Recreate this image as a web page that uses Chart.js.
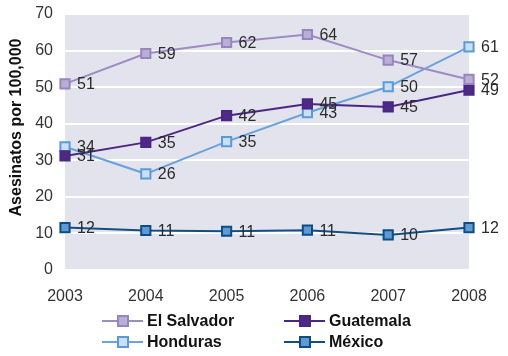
<!DOCTYPE html>
<html><head><meta charset="utf-8">
<script src="https://cdn.jsdelivr.net/npm/chart.js@4/dist/chart.umd.min.js"></script>
<style>html,body{margin:0;padding:0;background:#fff}#wrap{width:508px;height:356px}</style>
</head><body><div id="wrap"><canvas id="c" width="508" height="356"></canvas></div>
<script>
const years = ['2003','2004','2005','2006','2007','2008'];
const elSalvador = [50.9, 59.2, 62.2, 64.4, 57.4, 52.1];
const guatemala = [31.2, 34.9, 42.2, 45.4, 44.6, 49.2];
const honduras = [33.7, 26.3, 35.1, 43.0, 50.1, 61.0];
const mexico = [11.6, 10.8, 10.6, 10.9, 9.6, 11.6];
const seriesNames = ['El Salvador','Guatemala','Honduras','México'];
const yTitle = 'Asesinatos por 100,000';

const styles = [
  {line:'#9d8bc4', border:'#9884bf', fill:'#b9afd5'},
  {line:'#4b2784', border:'#4b2784', fill:'#4e2a86'},
  {line:'#6aa3db', border:'#5a9ad6', fill:'#cadff5'},
  {line:'#134e83', border:'#0f4c81', fill:'#5d9ad6'}
];
const seriesData = [elSalvador, guatemala, honduras, mexico];
const FONT = '"Liberation Sans", Arial, sans-serif';

const datasets = seriesData.map((d,i)=>({
  label: seriesNames[i], data: d,
  borderColor: styles[i].line, borderWidth: 2,
  pointStyle:'rect', pointRadius:6.5, pointHoverRadius:6.5,
  pointBorderWidth:2, pointBorderColor: styles[i].border, pointBackgroundColor: styles[i].fill,
  tension:0, fill:false
}));

const bgPlugin = {
  id:'bg',
  beforeDraw(chart){
    const a = chart.chartArea, ctx = chart.ctx;
    ctx.save(); ctx.fillStyle = '#e3e3ee';
    ctx.fillRect(a.left, a.top, a.right-a.left, a.bottom-a.top);
    ctx.restore();
  }
};
const labelPlugin = {
  id:'labels',
  afterDatasetsDraw(chart){
    const ctx = chart.ctx;
    ctx.save();
    ctx.font = '16px ' + FONT;
    ctx.fillStyle = '#2b2b2b'; ctx.textBaseline = 'middle'; ctx.textAlign='left';
    chart.data.datasets.forEach((ds,i)=>{
      const meta = chart.getDatasetMeta(i);
      meta.data.forEach((pt,j)=>{
        ctx.fillText(String(Math.round(ds.data[j])), pt.x+12, pt.y+1);
      });
    });
    ctx.restore();
  }
};
const titlePlugin = {
  id:'ytitle',
  afterDraw(chart){
    const ctx = chart.ctx;
    ctx.save();
    ctx.translate(17, 127.5); ctx.rotate(-Math.PI/2);
    ctx.font = 'bold 16px ' + FONT; ctx.fillStyle = '#111';
    ctx.textAlign = 'center'; ctx.textBaseline = 'middle';
    ctx.fillText(yTitle, 0, 0);
    ctx.restore();
  }
};
const legendPlugin = {
  id:'customLegend',
  afterDraw(chart){
    const ctx = chart.ctx;
    const pos = [[102,321],[284,321],[102,342],[284,342]];
    ctx.save();
    ctx.font = 'bold 16px ' + FONT;
    ctx.textBaseline='middle'; ctx.textAlign='left';
    [0,1,2,3].forEach((si,k)=>{
      const [x,y] = pos[k]; const s = styles[si];
      ctx.strokeStyle = s.line; ctx.lineWidth = 2;
      ctx.beginPath(); ctx.moveTo(x,y); ctx.lineTo(x+41,y); ctx.stroke();
      ctx.fillStyle = s.fill; ctx.fillRect(x+16,y-5,10,10);
      ctx.strokeStyle = s.border; ctx.lineWidth = 2; ctx.strokeRect(x+16,y-5,10,10);
      ctx.fillStyle = '#111'; ctx.fillText(seriesNames[si], x+45, y+1);
    });
    ctx.restore();
  }
};

new Chart(document.getElementById('c'), {
  type:'line',
  data:{labels: years, datasets},
  options:{
    responsive:false, animation:false, devicePixelRatio:1,
    layout:{padding:{top:14,right:39,left:6,bottom:0}},
    plugins:{legend:{display:false}, tooltip:{enabled:false}},
    scales:{
      x:{offset:false, grid:{display:false, drawTicks:false}, border:{display:false},
         ticks:{color:'#333', font:{size:16, family:FONT}, padding:17, maxRotation:0},
         afterFit(s){ s.height = 86; s.paddingLeft = 0; s.paddingRight = 0; }},
      y:{min:0, max:70, grid:{color:'#ffffff', lineWidth:2, drawTicks:false}, border:{display:false},
         ticks:{stepSize:10, color:'#333', font:{size:16, family:FONT}, padding:12},
         title:{display:false},
         afterFit(s){ s.width = 59; s.paddingTop = 0; s.paddingBottom = 0; }}
    }
  },
  plugins:[bgPlugin, labelPlugin, titlePlugin, legendPlugin]
});
</script></body></html>
